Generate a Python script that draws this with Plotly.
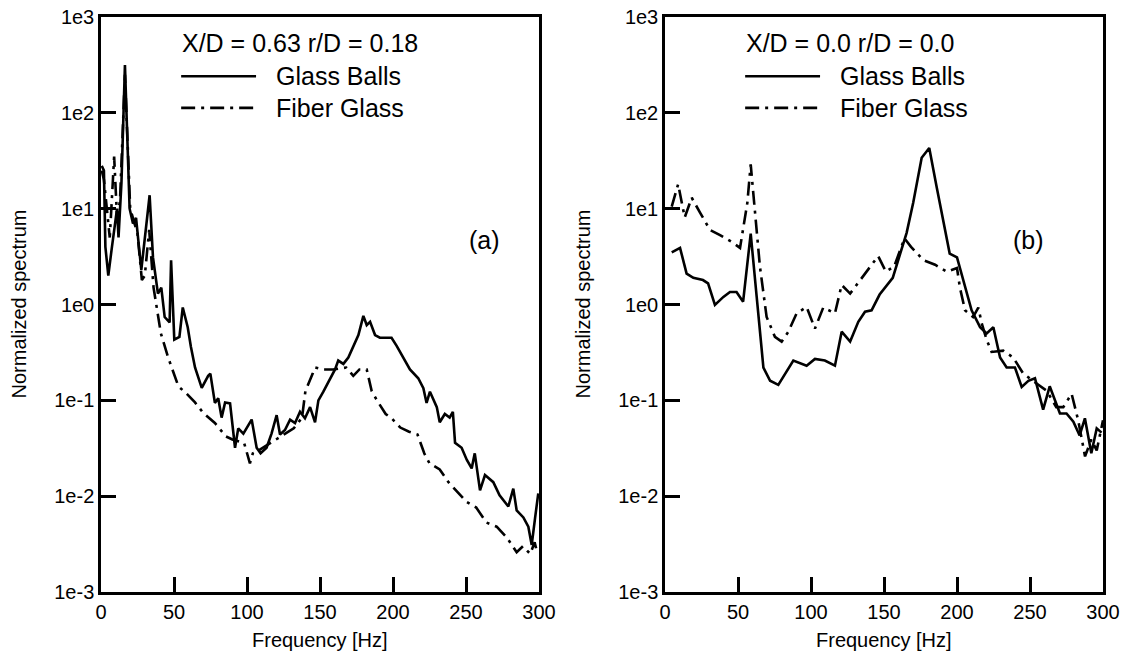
import plotly.graph_objects as go

# --- data (frequency in Hz, normalized spectrum) ---
# panel (a): X/D = 0.63, r/D = 0.18
a_balls_f = [0.5, 2, 3, 5, 7.5, 9, 11, 12, 14, 16.4, 19.6, 21.9, 24, 27.6, 33.3, 35.6, 39, 41.3,
             43.6, 47, 48, 50.2, 53.7, 56, 59.4, 61.6, 64.4, 69, 73.4, 74.9, 78, 80.3, 82.6, 85,
             88.4, 91.8, 94, 97.5, 103.2, 106.6, 109.3, 113.4, 116.8, 120.3, 122.6, 126, 129.5,
             132.9, 136.3, 139.7, 143.2, 146.6, 148.9, 152.3, 156.8, 160.3, 162.5, 166, 169.4,
             172.8, 176.3, 179.7, 182, 184.3, 187.7, 191, 199, 202.5, 207, 211.6, 217.3, 220.8,
             223, 225.3, 230, 232, 235.5, 238.8, 241, 242.5, 247, 250.5, 253.9, 256, 259.6, 263,
             268.7, 273, 279, 282.4, 284.7, 289.3, 292.7, 295, 297.3, 299.5]
a_balls_s = [28, 25, 4, 2.0, 4, 5.9, 10, 5, 18.6, 316, 10, 7, 8, 2.3, 13.8, 3.1, 1.3, 1.5,
             0.74, 0.65, 2.9, 0.43, 0.46, 0.93, 0.58, 0.36, 0.22, 0.135, 0.18, 0.19, 0.094, 0.105,
             0.066, 0.095, 0.093, 0.032, 0.051, 0.045, 0.063, 0.032, 0.028, 0.032, 0.045, 0.07,
             0.044, 0.049, 0.063, 0.058, 0.076, 0.065, 0.085, 0.059, 0.1, 0.123, 0.17, 0.21, 0.26,
             0.24, 0.28, 0.36, 0.48, 0.76, 0.61, 0.66, 0.48, 0.45, 0.45, 0.37, 0.28, 0.21, 0.17,
             0.134, 0.094, 0.123, 0.085, 0.059, 0.072, 0.066, 0.076, 0.036, 0.032, 0.024, 0.0195,
             0.028, 0.0115, 0.0166, 0.014, 0.0102, 0.0078, 0.012, 0.0071, 0.006, 0.0048, 0.0031,
             0.0059, 0.0107]

a_fiber_f = [0.5, 2, 4, 6, 8, 9, 11, 13, 16.4, 20, 25, 28, 30, 33, 36, 38, 41, 46, 53, 58, 64.4,
             70, 78, 81, 85.6, 90, 98, 102, 104, 108, 116, 125, 132, 137.7, 140, 145, 146.6, 152,
             159, 168, 172.8, 177, 182, 185.4, 189, 195, 199, 205, 211, 216.8, 221.4, 225, 232,
             238, 245, 250.5, 257, 264, 271, 278, 284.7, 289, 294, 297, 299]
a_fiber_s = [25, 20, 10, 5, 18, 35, 8, 12, 250, 10, 5.5, 1.8, 2, 6, 1.5, 1.0, 0.5, 0.28, 0.14,
             0.12, 0.095, 0.074, 0.058, 0.051, 0.042, 0.039, 0.036, 0.022, 0.028, 0.03, 0.036,
             0.044, 0.051, 0.066, 0.125, 0.19, 0.22, 0.21, 0.21, 0.22, 0.18, 0.21, 0.21, 0.125,
             0.1, 0.072, 0.065, 0.052, 0.047, 0.044, 0.028, 0.022, 0.019, 0.014, 0.0107, 0.0087,
             0.0076, 0.0053, 0.0048, 0.0037, 0.0026, 0.003, 0.0025, 0.0033, 0.0025]

# panel (b): X/D = 0.0, r/D = 0.0
b_balls_f = [4.6, 10.3, 14.8, 19.4, 26, 29.5, 34.2, 40, 44.5, 49, 53.5, 58.7, 62.8, 67.4, 72,
             77.6, 87.9, 97, 102.7, 109.5, 116.4, 121, 126.8, 132.4, 137, 141.5, 147, 156, 165.5,
             170, 175.8, 181, 186, 190.5, 195, 200, 206.6, 210, 215.8, 220.3, 224.9, 229.5, 234,
             239.7, 244.3, 248.9, 253.4, 259, 263.5, 270.5, 275, 279.7, 284, 287.6, 292, 295.7, 299]
b_balls_s = [3.5, 3.9, 2.1, 1.9, 1.8, 1.66, 0.99, 1.2, 1.35, 1.35, 1.07, 5.5, 1.2, 0.22, 0.16,
             0.145, 0.26, 0.23, 0.27, 0.26, 0.23, 0.52, 0.41, 0.66, 0.84, 0.87, 1.27, 1.9, 5.6,
             11.5, 34, 43, 17, 7.6, 3.4, 3.1, 1.3, 0.87, 0.58, 0.5, 0.58, 0.28, 0.22, 0.22, 0.138,
             0.16, 0.17, 0.08, 0.14, 0.073, 0.073, 0.06, 0.043, 0.065, 0.028, 0.051, 0.046]

b_fiber_f = [4.6, 9, 13.5, 18.3, 24, 30.8, 37.7, 45.7, 51.4, 56.4, 58.7, 61.6, 65, 69.6, 75.3,
             79.9, 84.5, 90.2, 97, 102.7, 108.4, 116.4, 121, 126.8, 133.6, 140.4, 146, 151.3, 157,
             164, 168.5, 177, 185, 193, 200, 202, 205.5, 211, 214.6, 217, 220.3, 223.7, 231.7,
             238.5, 245.4, 254.5, 261.4, 268, 272.8, 278.5, 283, 287.7, 292, 295.7, 300]
b_fiber_s = [10.5, 18, 8.1, 13, 9.1, 6, 5.3, 4.5, 3.9, 11.5, 29, 9.6, 2.5, 0.74, 0.46, 0.41,
             0.52, 0.81, 0.94, 0.56, 0.93, 0.81, 1.6, 1.3, 1.8, 2.5, 3.2, 2.2, 2.5, 4.9, 4.0, 2.9,
             2.6, 2.2, 2.4, 1.5, 0.87, 0.74, 0.93, 0.63, 0.43, 0.32, 0.33, 0.28, 0.19, 0.15, 0.126,
             0.085, 0.085, 0.117, 0.062, 0.026, 0.039, 0.03, 0.062]

decade_vals = [1e-3, 1e-2, 1e-1, 1e0, 1e1, 1e2, 1e3]
decade_text = ["1e-3", "1e-2", "1e-1", "1e0", "1e1", "1e2", "1e3"]
freq_ticks = [0, 50, 100, 150, 200, 250, 300]

panels = [
    dict(title="X/D = 0.63 r/D = 0.18", tag="(a)", tag_x=0.875,
         balls=(a_balls_f, a_balls_s), fiber=(a_fiber_f, a_fiber_s)),
    dict(title="X/D = 0.0 r/D = 0.0", tag="(b)", tag_x=0.83,
         balls=(b_balls_f, b_balls_s), fiber=(b_fiber_f, b_fiber_s)),
]

W, H = 1126, 658
FONT = "Liberation Sans, Arial, Helvetica, sans-serif"
DASHDOT = "14px,6px,3px,6px"
# plot boxes in pixels (left, right), shared top/bottom
boxes = [(101, 539), (665, 1103)]
top, bottom = 17, 592


def px(x):
    return x / W


def py(y):
    return 1 - y / H


fig = go.Figure()
annotations = []
shapes = []

for i, (p, (left, right)) in enumerate(zip(panels, boxes)):
    n = "" if i == 0 else str(i + 1)
    xa, ya = "x" + n, "y" + n

    fig.add_trace(go.Scatter(x=p["balls"][0], y=p["balls"][1], mode="lines",
                             line=dict(color="black", width=2.6), xaxis=xa, yaxis=ya,
                             showlegend=False))
    fig.add_trace(go.Scatter(x=p["fiber"][0], y=p["fiber"][1], mode="lines",
                             line=dict(color="black", width=2.6, dash=DASHDOT),
                             xaxis=xa, yaxis=ya, showlegend=False))

    axis_common = dict(showline=True, linecolor="black", linewidth=2.5, mirror=True,
                       ticks="inside", ticklen=15, tickwidth=2.5, tickcolor="black",
                       showgrid=False, zeroline=False, automargin=False,
                       tickfont=dict(family=FONT, size=20, color="black"))
    fig.update_layout({
        "xaxis" + n: dict(axis_common, domain=[px(left), px(right)], range=[0, 300],
                          tickvals=freq_ticks, anchor=ya),
        "yaxis" + n: dict(axis_common, domain=[py(bottom), py(top)], type="log",
                          range=[-3, 3], tickvals=decade_vals, ticktext=decade_text,
                          anchor=xa),
    })

    xd, yd = xa + " domain", ya + " domain"
    annotations += [
        dict(text=p["title"], xref=xd, yref=yd, x=0.18, y=0.955, xanchor="left",
             yanchor="middle", showarrow=False, font=dict(family=FONT, size=25)),
        dict(text="Glass Balls", xref=xd, yref=yd, x=0.395, y=0.897, xanchor="left",
             yanchor="middle", showarrow=False, font=dict(family=FONT, size=25)),
        dict(text="Fiber Glass", xref=xd, yref=yd, x=0.395, y=0.842, xanchor="left",
             yanchor="middle", showarrow=False, font=dict(family=FONT, size=25)),
        dict(text=p["tag"], xref=xd, yref=yd, x=p["tag_x"], y=0.612, xanchor="center",
             yanchor="middle", showarrow=False, font=dict(family=FONT, size=25)),
        dict(text="Frequency [Hz]", xref="paper", yref="paper", x=px((left + right) / 2),
             y=py(640), xanchor="center", yanchor="middle", showarrow=False,
             font=dict(family=FONT, size=20)),
        dict(text="Normalized spectrum", xref="paper", yref="paper", x=px(left - 83),
             y=py((top + bottom) / 2), xanchor="center", yanchor="middle", textangle=-90,
             showarrow=False, font=dict(family=FONT, size=20)),
    ]
    # legend line samples
    shapes += [
        dict(type="line", xref=xd, yref=yd, x0=0.183, x1=0.354, y0=0.897, y1=0.897,
             line=dict(color="black", width=2.6)),
        dict(type="line", xref=xd, yref=yd, x0=0.183, x1=0.354, y0=0.842, y1=0.842,
             line=dict(color="black", width=2.6, dash=DASHDOT)),
    ]

fig.update_layout(
    width=W, height=H,
    margin=dict(l=0, r=0, t=0, b=0),
    paper_bgcolor="white", plot_bgcolor="white",
    font=dict(family=FONT, color="black"),
    annotations=annotations,
    shapes=shapes,
    showlegend=False,
)

# the page body has a default 8px margin; drop it so the figure fills the window
fig.write_html("out.html", config={"displayModeBar": False},
               post_script="document.body.style.margin='0';")
